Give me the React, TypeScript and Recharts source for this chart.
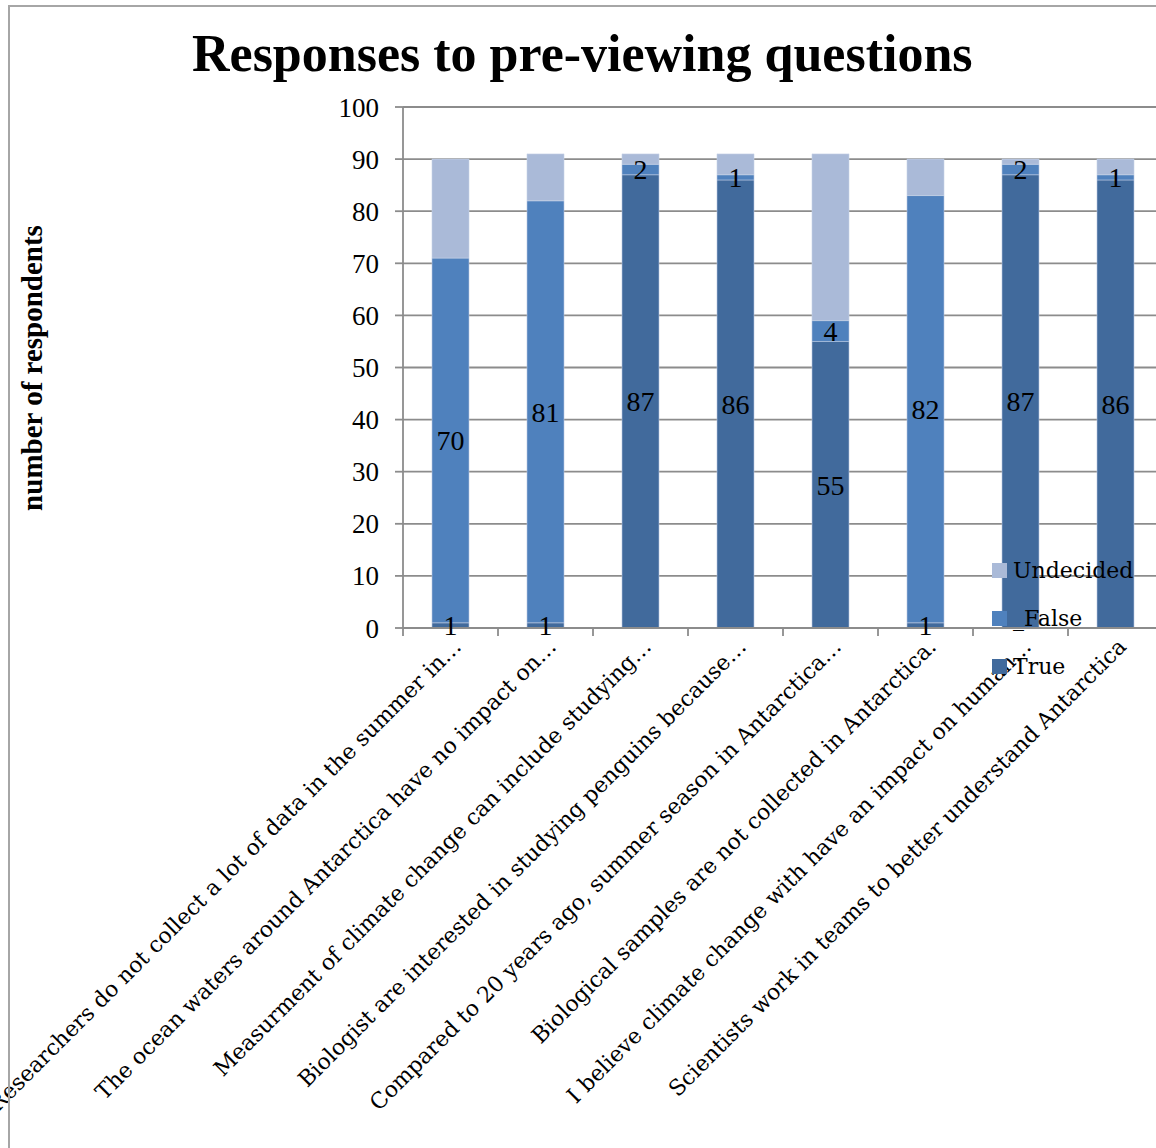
import React from "react";
import { Bar, BarChart, CartesianGrid, LabelList, Legend, XAxis, YAxis } from "recharts";

const questions = [
  "Researchers do not collect a lot of data in the summer in…",
  "The ocean waters around Antarctica have no impact on…",
  "Measurment of climate change can include studying…",
  "Biologist are interested in studying penguins because…",
  "Compared to 20 years ago, summer season in Antarctica…",
  "Biological samples are not collected in Antarctica.",
  "I believe climate change with have an impact on human…",
  "Scientists work in teams to better understand Antarctica",
];
const trueCounts = [1, 1, 87, 86, 55, 1, 87, 86];
const falseCounts = [70, 81, 2, 1, 4, 82, 2, 1];
const undecidedCounts = [19, 9, 2, 4, 32, 7, 1, 3];
const yTicks = [0, 10, 20, 30, 40, 50, 60, 70, 80, 90, 100];

const rows = questions.map((q, i) => ({
  question: q,
  True: trueCounts[i],
  _False: falseCounts[i],
  Undecided: undecidedCounts[i],
}));

const SERIF = "'Liberation Serif', 'Times New Roman', serif";
const WIDE_SERIF = "'DejaVu Serif', serif";
const GRID = "#8c8c8c";
const FRAME = "#a6a6a6";
const COLORS = { True: "#416a9c", _False: "#4f81bd", Undecided: "#aabad8" };

function CategoryTick(props: any) {
  const { x, y, payload, index, visibleTicksCount } = props;
  const half = payload?.offset || 47.5;
  const tx = x + 12;
  const ty = y + 20;
  return (
    <g>
      <line x1={x - half} x2={x - half} y1={y} y2={y + 8} stroke={GRID} strokeWidth={1.8} />
      {index === visibleTicksCount - 1 && (
        <line x1={x + half} x2={x + half} y1={y} y2={y + 8} stroke={GRID} strokeWidth={1.8} />
      )}
      <text
        x={tx}
        y={ty}
        transform={`rotate(-45 ${tx} ${ty})`}
        textAnchor="end"
        fontFamily={WIDE_SERIF}
        fontSize={22}
        fill="#000"
      >
        {payload.value}
      </text>
    </g>
  );
}

function LegendBox() {
  const items: [string, string][] = [
    ["Undecided", COLORS.Undecided],
    ["_False", COLORS._False],
    ["True", COLORS.True],
  ];
  return (
    <div style={{ fontFamily: WIDE_SERIF, fontSize: 22 }}>
      {items.map(([name, color]) => (
        <div key={name} style={{ display: "flex", alignItems: "center", height: 48 }}>
          <span style={{ width: 15, height: 15, background: color, marginRight: 6 }} />
          <span>{name}</span>
        </div>
      ))}
    </div>
  );
}

export default function App() {
  return (
    <div style={{ position: "fixed", left: 0, top: 0, width: 1156, height: 1148, overflow: "hidden", background: "#fff" }}>
      <div
        style={{
          position: "absolute",
          left: 192,
          top: 24,
          whiteSpace: "nowrap",
          fontFamily: SERIF,
          fontWeight: "bold",
          fontSize: 52,
          lineHeight: "60px",
        }}
      >
        Responses to pre-viewing questions
      </div>
      <div style={{ position: "absolute", left: 0, top: 0 }}>
        <BarChart width={1170} height={1148} data={rows} margin={{ top: 107, right: 7, left: 0, bottom: 0 }} barSize={37}>
          <CartesianGrid vertical={false} stroke={GRID} strokeWidth={1.8} />
          <YAxis
            width={403}
            domain={[0, 100]}
            ticks={yTicks}
            tickSize={8}
            tickMargin={16}
            axisLine={{ stroke: GRID, strokeWidth: 1.8 }}
            tickLine={{ stroke: GRID, strokeWidth: 1.8 }}
            tick={{ fill: "#000", fontSize: 27, fontFamily: SERIF }}
            label={{
              content: () => (
                <text
                  x={42}
                  y={368}
                  transform="rotate(-90 42 368)"
                  textAnchor="middle"
                  fontFamily={SERIF}
                  fontWeight="bold"
                  fontSize={29}
                  fill="#000"
                >
                  number of respondents
                </text>
              ),
            }}
          />
          <XAxis
            dataKey="question"
            height={520}
            interval={0}
            tickSize={0}
            tickMargin={0}
            axisLine={{ stroke: GRID, strokeWidth: 1.8 }}
            tickLine={false}
            tick={<CategoryTick />}
          />
          <Bar dataKey="True" stackId="a" fill={COLORS.True} stroke="#b8c7e0" strokeWidth={0.6} isAnimationActive={false}>
            <LabelList dataKey="True" position="center" fill="#000" fontSize={28} fontFamily={SERIF} />
          </Bar>
          <Bar dataKey="_False" stackId="a" fill={COLORS._False} stroke="#b8c7e0" strokeWidth={0.6} isAnimationActive={false}>
            <LabelList dataKey="_False" position="center" fill="#000" fontSize={28} fontFamily={SERIF} />
          </Bar>
          <Bar dataKey="Undecided" stackId="a" fill={COLORS.Undecided} stroke="#c8d3e8" strokeWidth={0.6} isAnimationActive={false} />
          <Legend
            layout="vertical"
            align="center"
            verticalAlign="middle"
            content={<LegendBox />}
            wrapperStyle={{ position: "absolute", left: 992, top: 546, width: 160 }}
          />
        </BarChart>
      </div>
      {/* outer frame of the chart area */}
      <div style={{ position: "absolute", zIndex: 5, left: 8, top: 5, width: 2, height: 1200, background: FRAME }} />
      <div style={{ position: "absolute", zIndex: 5, left: 8, top: 5, width: 1200, height: 2, background: FRAME }} />
    </div>
  );
}
